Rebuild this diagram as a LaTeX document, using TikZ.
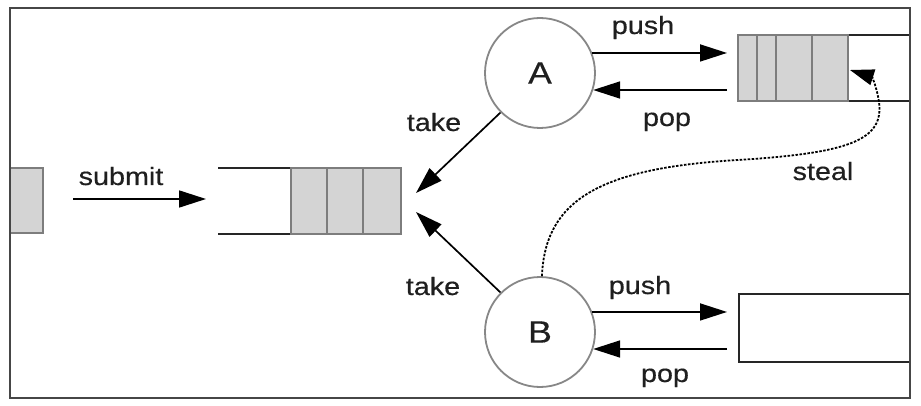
\documentclass[tikz,border=0pt]{standalone}
\usepackage{fontspec}
\setmainfont{Liberation Sans}[FakeStretch=1.15,FakeBold=0.4]
\usetikzlibrary{arrows.meta}
\definecolor{qfill}{RGB}{212,212,212}
\definecolor{qedge}{RGB}{125,125,125}
\definecolor{cedge}{RGB}{135,135,135}
\definecolor{fedge}{RGB}{70,70,70}
\tikzset{
  lbl/.style={anchor=base,inner sep=0pt,text=black!88,font=\fontsize{25}{30}\selectfont},
  worker/.style={circle,draw=cedge,line width=1.8pt,minimum size=110pt,inner sep=0pt,text=black!88,font=\fontsize{31}{36}\selectfont},
  arr/.style={line width=1.7pt,-{Triangle[length=27pt,width=17pt]}},
  stealarr/.style={line width=1.8pt,dash pattern=on 2.5pt off 1.5pt,-{Triangle[length=24pt,width=16pt]}},
  qbox/.style={fill=qfill,draw=qedge,line width=1.5pt},
  qline/.style={line width=1.8pt,draw=black!85},
}
\begin{document}
\begin{tikzpicture}[x=1pt,y=-1pt]
\useasboundingbox[fill=white] (0,0) rectangle (921,406);
% left partial queue element
\filldraw[qbox] (10,168) rectangle (43,233);
% central queue
\draw[qline] (218,168) -- (291,168);
\draw[qline] (218,234) -- (291,234);
\filldraw[qbox] (291,168) rectangle (401,234);
\draw[qedge,line width=1.5pt] (327,168) -- (327,234) (363,168) -- (363,234);
% top-right queue
\draw[qline] (848,35) -- (910,35);
\draw[qline] (848,101) -- (910,101);
\filldraw[qbox] (738,35) rectangle (848,101);
\draw[qedge,line width=1.5pt] (757,35) -- (757,101) (776,35) -- (776,101) (812,35) -- (812,101);
% bottom-right queue
\draw[qline] (910,294) -- (739,294) -- (739,362) -- (910,362);
% frame
\draw[fedge,line width=2pt] (10,8) rectangle (910,398);
% workers
\node[worker] (A) at (540,73) {A};
\node[worker] (B) at (540,332) {B};
% coordinates
\coordinate (s1) at (73,199);
\coordinate (s2) at (206,199);
\coordinate (qa1) at (727,53);
\coordinate (qa2) at (727,90);
\coordinate (qb1) at (727,313);
\coordinate (qb2) at (727,349);
\coordinate (ta) at (416,193);
\coordinate (tb) at (416,212);
\coordinate (st) at (850,70);
% arrows
\draw[arr] (s1) -- (s2);
\draw[arr] (A.21) -- (qa1 |- A.21);
\draw[arr] (qa2) -- (A.-18 |- qa2);
\draw[arr] (B.21) -- (qb1 |- B.21);
\draw[arr] (qb2) -- (B.-18 |- qb2);
\draw[arr] (A.225) -- (ta);
\draw[arr] (B.135) -- (tb);
\draw[stealarr] (B.88) .. controls (545,200) and (600,168) .. (738,160)
   .. controls (850,153) and (884,140) .. (879,102)
   .. controls (877,88) and (872,77) .. (st);
% labels
\node[lbl] (lsubmit) at (121,185) {submit};
\node[lbl] (lpusha) at (643,34) {push};
\node[lbl] (lpopa) at (667,126) {pop};
\node[lbl] (ltakea) at (434,131) {take};
\node[lbl] (ltakeb) at (433,295) {take};
\node[lbl] (lsteal) at (823,180) {steal};
\node[lbl] (lpushb) at (640,294) {push};
\node[lbl] (lpopb) at (665,382) {pop};
\end{tikzpicture}
\end{document}
